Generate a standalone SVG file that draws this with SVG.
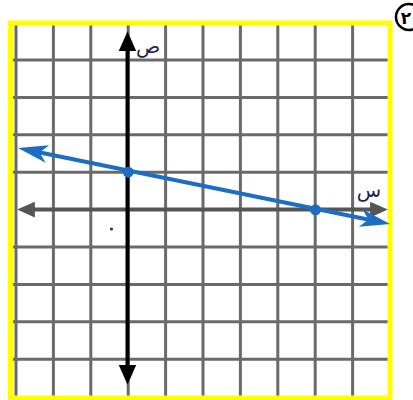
<svg xmlns="http://www.w3.org/2000/svg" width="413" height="400" viewBox="0 0 413 400">
<style>
.grid line{stroke:#6a6a6a;stroke-width:3}
.lbl{font-family:"DejaVu Sans",sans-serif;fill:#1b2550;text-anchor:middle}
</style>
<defs>
<marker id="bh" markerUnits="userSpaceOnUse" markerWidth="44" markerHeight="24" refX="-10" refY="0" viewBox="-32 -12 34 24" orient="auto-start-reverse">
<path d="M0,0 L-30,-9 L-22,0 L-30,9 Z" fill="#1b6ec2"/>
</marker>
<marker id="gh" markerUnits="userSpaceOnUse" markerWidth="24" markerHeight="20" refX="-8" refY="0" viewBox="-18 -9 20 18" orient="auto-start-reverse">
<path d="M0,0 L-16,-7 L-16,7 Z" fill="#555"/>
</marker>
<marker id="kh" markerUnits="userSpaceOnUse" markerWidth="24" markerHeight="24" refX="-8" refY="0" viewBox="-20 -9 22 18" orient="auto-start-reverse">
<path d="M0,0 L-18,-8 L-18,8 Z" fill="#000"/>
</marker>
</defs>
<rect width="413" height="400" fill="#fff"/>
<g id="grid" class="grid">
<line x1="16" y1="23" x2="16" y2="398"/>
<line x1="53.4" y1="23" x2="53.4" y2="398"/>
<line x1="90.8" y1="23" x2="90.8" y2="398"/>
<line x1="128.2" y1="23" x2="128.2" y2="398"/>
<line x1="165.6" y1="23" x2="165.6" y2="398"/>
<line x1="203" y1="23" x2="203" y2="398"/>
<line x1="240.4" y1="23" x2="240.4" y2="398"/>
<line x1="277.8" y1="23" x2="277.8" y2="398"/>
<line x1="315.2" y1="23" x2="315.2" y2="398"/>
<line x1="352.6" y1="23" x2="352.6" y2="398"/>
<line x1="10" y1="60" x2="390" y2="60"/>
<line x1="10" y1="97.4" x2="390" y2="97.4"/>
<line x1="10" y1="134.8" x2="390" y2="134.8"/>
<line x1="10" y1="172.2" x2="390" y2="172.2"/>
<line x1="10" y1="247" x2="390" y2="247"/>
<line x1="10" y1="284.4" x2="390" y2="284.4"/>
<line x1="10" y1="321.8" x2="390" y2="321.8"/>
<line x1="10" y1="359.2" x2="390" y2="359.2"/>
</g>
<rect id="frame" x="10.5" y="23" width="379.5" height="375" fill="none" stroke="#ffff00" stroke-width="5"/>
<g id="connectors">
<line id="x-axis" x1="26" y1="209.6" x2="379" y2="209.6" stroke="#555" stroke-width="4" marker-start="url(#gh)" marker-end="url(#gh)"/>
<line id="y-axis" x1="127.5" y1="40" x2="127.5" y2="376" stroke="#000" stroke-width="4" marker-start="url(#kh)" marker-end="url(#kh)"/>
<line id="graph-line" x1="27.8" y1="150" x2="380.2" y2="222" stroke="#1b6ec2" stroke-width="4" marker-start="url(#bh)" marker-end="url(#bh)"/>
</g>
<g id="point-a"><circle cx="128.2" cy="172.2" r="5.5" fill="#1b6ec2"/></g>
<g id="point-b"><circle cx="315.5" cy="209.8" r="5.5" fill="#1b6ec2"/></g>
<g id="origin-dot"><circle cx="111.5" cy="229" r="1.6" fill="#3a3040"/></g>
<g id="label-y"><text class="lbl" x="148" y="53" font-size="20">ص</text></g>
<g id="label-x"><text class="lbl" x="369" y="197" font-size="20">س</text></g>
<g id="number"><circle cx="409" cy="17" r="13" fill="none" stroke="#000" stroke-width="2.5"/><text x="406" y="24" font-family="DejaVu Sans,sans-serif" font-size="17" font-weight="bold" text-anchor="middle" fill="#000">٢</text></g>
</svg>
